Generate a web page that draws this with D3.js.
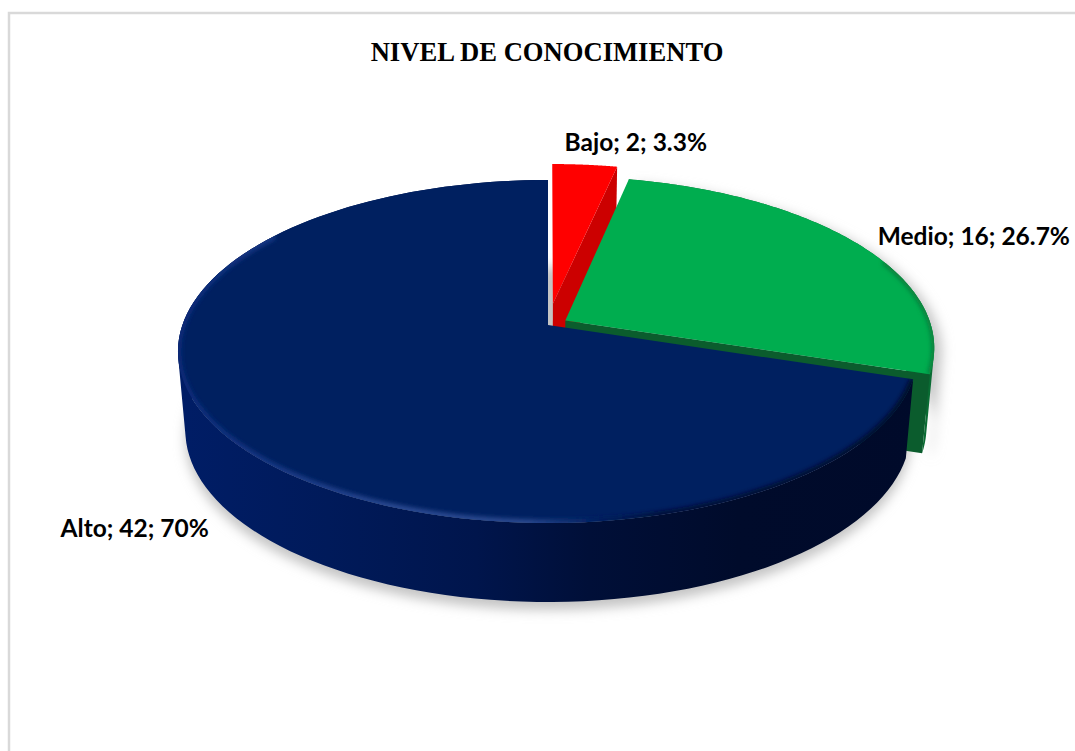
<!DOCTYPE html>
<html><head><meta charset="utf-8">
<script src="https://d3js.org/d3.v7.min.js"></script>
<style>html,body{margin:0;padding:0;background:#fff}svg{display:block}</style>
</head><body><div id="c"></div>
<script>
const categories = ["Bajo", "Medio", "Alto"];
const values = [2, 16, 42];
const percentLabels = ["3.3%", "26.7%", "70%"];
const explosions = [0.13, 0.055, 0];
const topColors = ["#ff0000", "#00ad4f", "#002060"];
const wallColors = ["#cc0000", "#0a6b33", "#001040"];
const cutColors = ["#cc0000", "#0b5c2d", "#001040"];
const labelOffsets = [[51, -21], [117, -5], [-88, 97]];
const titleText = "NIVEL DE CONOCIMIENTO";

const W = 1075, H = 751;
const svg = d3.select("#c").append("svg").attr("width", W).attr("height", H);
const defs = svg.append("defs");

// Perspective projection of the disc: scales map the plane of the pie onto the page
const cx = 548, cy = 325, R = 365.6, A = 167.4, k = 0.1545, depth = 79, bottomScale = 0.98;
const sx = d3.scaleLinear().domain([0, 1]).range([0, R]);
const sy = d3.scaleLinear().domain([0, 1]).range([0, A]);
function project(angle, r, e, mid, bottom) {
  const u = r * Math.sin(angle) + e * Math.sin(mid);
  const v = -r * Math.cos(angle) - e * Math.cos(mid);
  const w = 1 - k * v;
  let x = cx + sx(u) / w, y = cy + sy(v) / w;
  if (bottom) { x = cx + (x - cx) * bottomScale; y += depth; }
  return [x, y];
}
const line = d3.line();
const closed = pts => line(pts) + "Z";
const arcAngles = (a0, a1) => d3.range(0, 121).map(i => a0 + (a1 - a0) * i / 120);

const arcs = d3.pie().sort(null)(values);
arcs.forEach((d, i) => {
  d.mid = (d.startAngle + d.endAngle) / 2;
  d.e = explosions[i];
});
const P = (d, a, r, b) => project(a, r, d.e, d.mid, b);
const topPath = d => closed([P(d, 0, 0, false)].concat(arcAngles(d.startAngle, d.endAngle).map(a => P(d, a, 1, false))));
// the wall is the area swept between top and bottom rim: one same-wound quad per step
const outerWall = d => {
  const as = arcAngles(d.startAngle, d.endAngle);
  return d3.pairs(as).map(([a, b]) => {
    const q = [P(d, a, 1, false), P(d, b, 1, false), P(d, b, 1, true), P(d, a, 1, true)];
    return closed(d3.polygonArea(q) < 0 ? q.reverse() : q);
  }).join("");
};
const cutWall = (d, a) => closed([P(d, a, 0, false), P(d, a, 1, false), P(d, a, 1, true), P(d, a, 0, true)]);

// filters
const blur = (id, s) => defs.append("filter").attr("id", id)
  .attr("x", "-10%").attr("y", "-10%").attr("width", "120%").attr("height", "130%")
  .append("feGaussianBlur").attr("stdDeviation", s);
blur("shadowBlur", 6); blur("rimBlur", 2.2);

// gradients
function grad(id, stops) {
  const g = defs.append("linearGradient").attr("id", id).attr("gradientUnits", "userSpaceOnUse")
    .attr("x1", 178).attr("x2", 925).attr("y1", 0).attr("y2", 0);
  stops.forEach(s => g.append("stop").attr("offset", s[0]).attr("stop-color", s[1]));
}
grad("navyWall", [[0, "#001d66"], [0.2, "#001a5a"], [0.4, "#00154c"], [0.55, "#000f38"], [0.75, "#000b2b"], [1, "#000a2a"]]);
grad("navyRim", [[0, "#0a2a78"], [0.1, "#153582"], [0.3, "#2c4a92"], [0.47, "#2a488f"], [0.56, "#002060"], [0.65, "#000f38"], [1, "#000b2b"]]);

// frame
svg.append("path").attr("d", line([[9, H], [9, 13], [W, 13]]))
  .attr("fill", "none").attr("stroke", "#d9d9d9").attr("stroke-width", 2.5);

// title
svg.append("text").attr("x", 547).attr("y", 61).attr("text-anchor", "middle")
  .attr("font-family", "'Liberation Serif'").attr("font-weight", "bold").attr("font-size", 26.6)
  .attr("fill", "#000").text(titleText);

// soft shadow under the pie
const full = arcAngles(0, 2 * Math.PI);
svg.append("path")
  .attr("d", closed(full.map(a => { const p = project(a, 1, 0, 0, true); return [p[0], p[1] + 8]; })))
  .attr("fill", "#c4c4c4").attr("filter", "url(#shadowBlur)");
svg.append("path")
  .attr("d", outerWall(arcs[1])).attr("transform", "translate(8,5)")
  .attr("fill", "#c8c8c8").attr("filter", "url(#shadowBlur)");

// painter's order: red, green, navy
[0, 1, 2].forEach(i => {
  const d = arcs[i];
  const g = svg.append("g");
  if (i === 0) g.append("path").attr("d", cutWall(d, d.endAngle)).attr("fill", cutColors[i]);
  if (i === 1) {
    g.append("path").attr("d", outerWall(d)).attr("fill", wallColors[i]);
    g.append("path").attr("d", cutWall(d, d.endAngle)).attr("fill", cutColors[i]);
  }
  if (i === 2) g.append("path").attr("d", outerWall(d)).attr("fill", "url(#navyWall)");
  g.append("path").attr("d", topPath(d)).attr("fill", topColors[i]);

  const clipId = "clip" + i;
  defs.append("clipPath").attr("id", clipId).append("path").attr("d", topPath(d));
  const rim = g.append("g").attr("clip-path", `url(#${clipId})`);
  const rimPts = arcAngles(d.startAngle, d.endAngle).map(a => P(d, a, 1, false));
  if (i === 1) {
    rim.append("path").attr("d", line(rimPts.slice(70))).attr("fill", "none")
      .attr("stroke", "#07803e").attr("stroke-width", 6).attr("filter", "url(#rimBlur)");
  }
  if (i === 2) {
    rim.append("path").attr("d", line(rimPts.slice(0, 95))).attr("fill", "none")
      .attr("stroke", "url(#navyRim)").attr("stroke-width", 7).attr("filter", "url(#rimBlur)");
  }
});

// data labels
arcs.forEach((d, i) => {
  const p = P(d, d.mid, 1, false);
  svg.append("text").attr("x", p[0] + labelOffsets[i][0]).attr("y", p[1] + labelOffsets[i][1] + 7)
    .attr("text-anchor", "middle")
    .attr("font-family", "Lato").attr("font-weight", "bold").attr("font-size", 24.5)
    .attr("fill", "#000")
    .text(`${categories[i]}; ${values[i]}; ${percentLabels[i]}`);
});
</script></body></html>
